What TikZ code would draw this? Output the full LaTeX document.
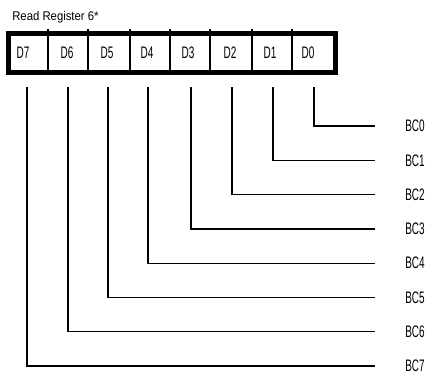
\documentclass[tikz,border=0pt]{standalone}
\usepackage{fontspec}
\setmainfont[FakeStretch=0.9]{Liberation Sans}
\newfontfamily\narrowfont[FakeStretch=0.6]{Liberation Sans}
\usetikzlibrary{positioning}
\tikzset{
  wire/.style={line width=1pt},
  bitlabel/.style={font=\narrowfont\fontsize{12.5}{14}\selectfont, inner sep=0pt},
}
\begin{document}
\begin{tikzpicture}[x=0.75pt, y=-0.75pt]
  \useasboundingbox (0,0) rectangle (433,379);

  % Title
  \node[font=\fontsize{9.45}{11}\selectfont, inner sep=0pt, anchor=base west]
    (title) at (12,20.5) {Read Register 6*};

  % Register box
  \draw[line width=3.75pt] (8.3,33) rectangle (335,72.5);
  \foreach \dx in {48,88,130,170,210,252,292}
    \draw[line width=0.9pt] (\dx,29) -- (\dx,70.5);

  % Bits and outputs
  \foreach \b/\lx/\wx/\wy in {7/23/27/366, 6/67/68/331.8, 5/107/108/297.5,
      4/147/148/263.2, 3/188/191/228.9, 2/230/232/194.6, 1/270/273/160.3,
      0/308/314/126}{
    \node[bitlabel] (d\b) at (\lx,52.5) {D\b};
    \coordinate (t\b) at (\wx,87);
    \node[bitlabel, anchor=west] (bc\b) at (405,\wy) {BC\b};
    \draw[wire] (t\b) |- ([xshift=-22.5pt]bc\b.west);
  }
\end{tikzpicture}
\end{document}
